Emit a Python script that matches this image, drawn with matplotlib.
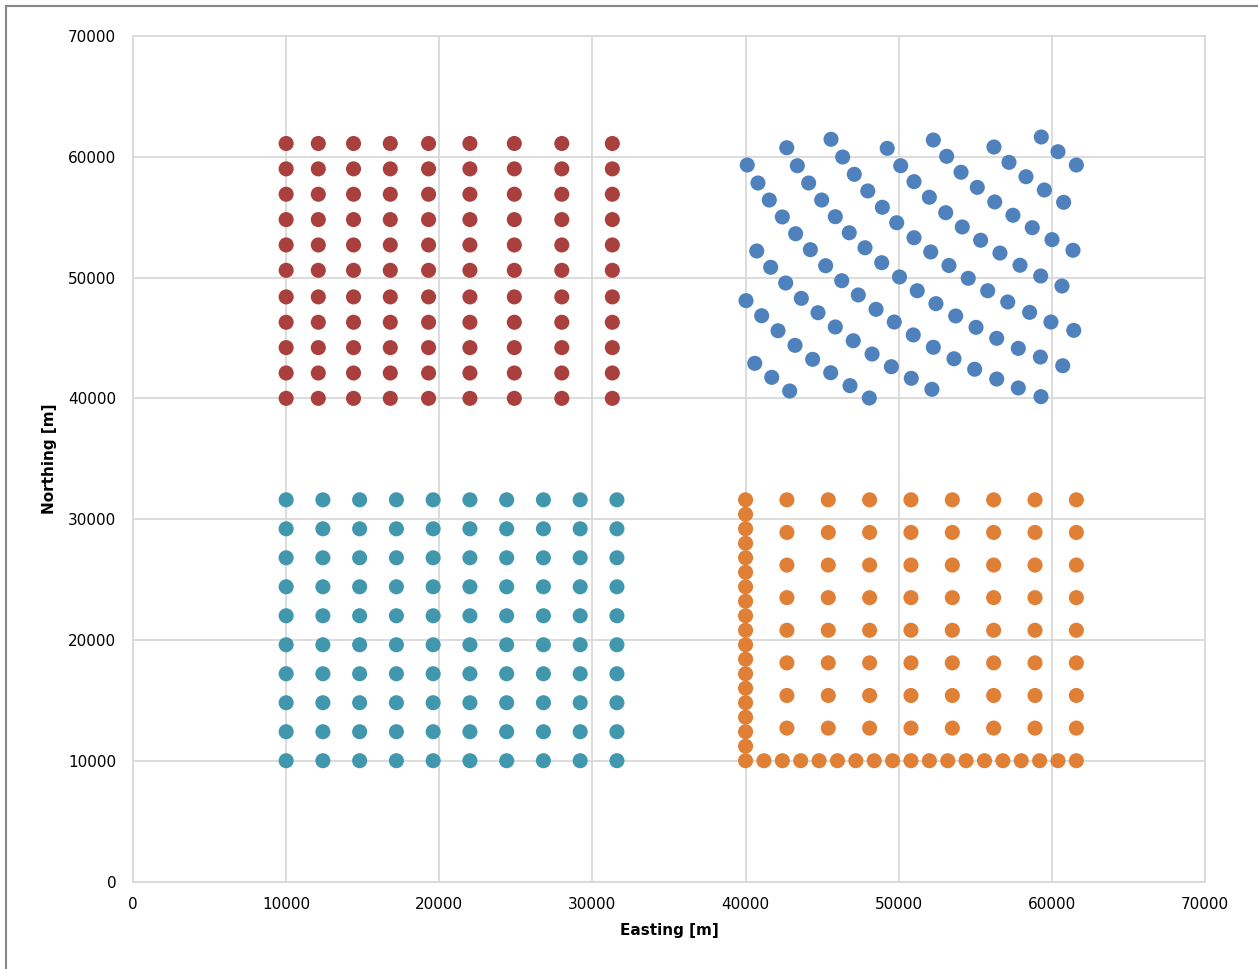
import numpy as np
import matplotlib.pyplot as plt
from matplotlib.patches import Rectangle

# red block, top left: uneven column spacing
red_x = [10000, 12100, 14400, 16800, 19300, 22000, 24900, 28000, 31300]
red_y = [40000, 42100, 44200, 46300, 48400, 50600, 52700, 54800, 56900, 59000, 61100]

# teal block, bottom left: regular grid
teal_x = [10000, 12400, 14800, 17200, 19600, 22000, 24400, 26800, 29200, 31600]
teal_y = [10000, 12400, 14800, 17200, 19600, 22000, 24400, 26800, 29200, 31600]

# orange block, bottom right: coarse interior grid + dense edge lines
orange_grid_x = [42700, 45400, 48100, 50800, 53500, 56200, 58900, 61600]
orange_grid_y = [12700, 15400, 18100, 20800, 23500, 26200, 28900, 31600]
orange_edge = [40000, 41200, 42400, 43600, 44800, 46000, 47200, 48400, 49600, 50800,
               52000, 53200, 54400, 55600, 56800, 58000, 59200, 60400, 61600]
orange_edge_y = [11200, 12400, 13600, 14800, 16000, 17200, 18400, 19600, 20800, 22000,
                 23200, 24400, 25600, 26800, 28000, 29200, 30400, 31600]

# blue block, top right: warped/rotated grid
blue_x = [40110, 42690, 45580, 49250, 40810, 43380, 46340, 50130, 41550, 44120,
          47100, 42400, 44970, 47980, 43270, 45860, 48930, 44230, 46770, 49870,
          40730, 47800, 52260, 53130, 54070, 55130, 56270, 57460, 58720, 60010,
          61380, 51000, 52000, 53070, 54150, 55350, 56610, 56220, 57200, 58310,
          59510, 60770, 59310, 60400, 61600, 51000, 52090, 41640, 45230, 48890,
          42620, 46280, 50050, 40030, 43640, 47360, 41050, 44730, 48520, 42120,
          45860, 49710, 43230, 47030, 40600, 44380, 48260, 41710, 45560, 49520,
          42880, 46820, 48080, 53280, 57920, 54540, 59270, 51210, 55810, 60660,
          52430, 57120, 53720, 58550, 55050, 59940, 61430, 50950, 52260, 53610,
          54960, 56400, 57810, 59290, 60710, 56400, 57810, 59250, 50820, 52170]
blue_y = [59320, 60750, 61450, 60700, 57830, 59260, 59980, 59260, 56420, 57830,
          58550, 55020, 56420, 57170, 53630, 55040, 55820, 52310, 53710, 54540,
          52200, 52470, 61390, 60040, 58720, 57470, 56260, 55160, 54130, 53140,
          52260, 57940, 56650, 55370, 54190, 53090, 52030, 60810, 59540, 58350,
          57250, 56230, 61640, 60420, 59320, 53300, 52120, 50850, 50980, 51230,
          49550, 49740, 50050, 48090, 48280, 48560, 46840, 47090, 47370, 45600,
          45910, 46320, 44390, 44770, 42900, 43230, 43670, 41740, 42120, 42620,
          40610, 41050, 40030, 51000, 51020, 49940, 50130, 48910, 48910, 49300,
          47840, 47980, 46820, 47120, 45880, 46320, 45630, 45250, 44230, 43280,
          42410, 41600, 40860, 40140, 42700, 44970, 44140, 43420, 41660, 40750]

# build point sets
rx, ry = np.meshgrid(red_x, red_y)
tx, ty = np.meshgrid(teal_x, teal_y)
gx, gy = np.meshgrid(orange_grid_x, orange_grid_y)
ox = np.concatenate([gx.ravel(), orange_edge, [orange_edge[0]] * len(orange_edge_y)])
oy = np.concatenate([gy.ravel(), [10000] * len(orange_edge), orange_edge_y])

fig = plt.figure(figsize=(12.58, 9.69), dpi=100)
ax = fig.add_axes([133 / 1258, 1 - 881.5 / 969, 1072 / 1258, 845.5 / 969])

ms = 118
ax.scatter(blue_x, blue_y, s=ms, color='#4f81bd', edgecolors='none', zorder=3)
ax.scatter(rx.ravel(), ry.ravel(), s=ms, color='#a9403d', edgecolors='none', zorder=3)
ax.scatter(tx.ravel(), ty.ravel(), s=ms, color='#4097ae', edgecolors='none', zorder=3)
ax.scatter(ox, oy, s=ms, color='#e07f36', edgecolors='none', zorder=3)

ax.set_xlim(0, 70000)
ax.set_ylim(0, 70000)
ax.set_xticks(range(0, 70001, 10000))
ax.set_yticks(range(0, 70001, 10000))
ax.grid(True, color='#d9d9d9', linewidth=1.3, zorder=0)
ax.set_axisbelow(True)
for sp in ax.spines.values():
    sp.set_color('#d9d9d9')
    sp.set_linewidth(1.3)
ax.tick_params(length=0, labelsize=11, colors='#000000')
ax.tick_params(axis='x', pad=11)
ax.tick_params(axis='y', pad=12)

ax.set_xlabel('Easting [m]', fontsize=11, fontweight='bold', labelpad=8)
ax.set_ylabel('Northing [m]', fontsize=11, fontweight='bold', labelpad=8)

# outer chart border
fig.patches.append(Rectangle((6 / 1258, -0.05), 1.1, 0.05 + 1 - 6 / 969,
                             transform=fig.transFigure, fill=False,
                             edgecolor='#888888', linewidth=1.5))

fig.savefig('out.png', dpi=100)
